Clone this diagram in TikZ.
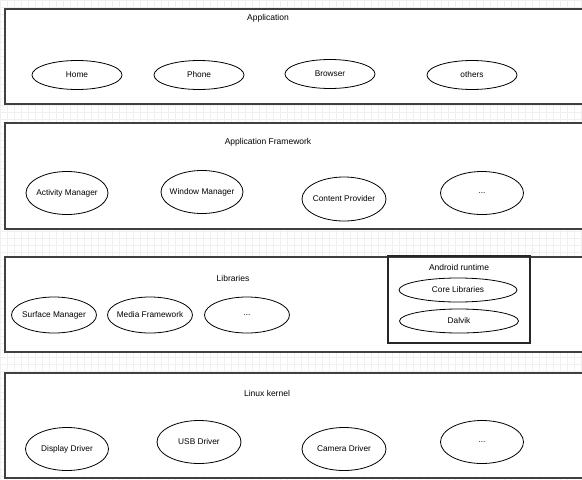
\documentclass[tikz,border=0pt]{standalone}
\usepackage{fontspec}
\setmainfont{Liberation Sans}
\usepackage{tikz}
\usetikzlibrary{shapes.geometric}

\tikzset{
    layerbox/.style={draw=black!75, line width=1.4pt, rectangle, inner sep=0pt},
    runtimebox/.style={draw=black!85, line width=1.4pt, rectangle, inner sep=0pt},
    part/.style={draw=black, line width=0.8pt, ellipse, inner xsep=-14pt, inner ysep=0pt,
        font=\fontsize{8.3}{10}\selectfont},
    title/.style={font=\fontsize{8.5}{10}\selectfont, inner sep=0pt}
}

\begin{document}
\begin{tikzpicture}[x=1pt, y=-1pt]
    \useasboundingbox (0, 0) rectangle (582, 480);
    \clip (0, 0) rectangle (582, 480);
    \fill[white] (0, 0) rectangle (582, 480);
    \draw[black!6, line width=0.3pt, step=7pt] (0, 0) grid (582, 480);

    % layers
    \node[layerbox, fill=white, minimum width=585pt, minimum height=95pt] at (297.5, 56.5) (app) {};
    \node[layerbox, fill=white, minimum width=585pt, minimum height=106pt] at (297.5, 176) (fw) {};
    \node[layerbox, fill=white, minimum width=585pt, minimum height=95pt] at (297.5, 304.5) (lib) {};
    \node[layerbox, fill=white, minimum width=585pt, minimum height=105pt] at (297.5, 425.5) (kernel) {};
    \node[runtimebox, minimum width=142pt, minimum height=87pt] at (459, 299.5) (rt) {};

    \node[title] at (268, 18) (appt) {Application};
    \node[title] at (268, 142) (fwt) {Application Framework};
    \node[title] at (233, 278) (libt) {Libraries};
    \node[title] at (459, 267) (rtt) {Android runtime};
    \node[title] at (267, 393) (kernelt) {Linux kernel};

    % application
    \node[part, minimum width=90pt, minimum height=29pt] at (77, 75) (home) {Home};
    \node[part, minimum width=90pt, minimum height=29pt] at (199, 75) (phone) {Phone};
    \node[part, minimum width=90pt, minimum height=29pt] at (330, 74) (browser) {Browser};
    \node[part, minimum width=90pt, minimum height=29pt] at (472, 75) (others) {others};

    % application framework
    \node[part, minimum width=82pt, minimum height=43pt] at (67, 193) (actmgr) {Activity Manager};
    \node[part, minimum width=82pt, minimum height=43pt] at (202, 192) (winmgr) {Window Manager};
    \node[part, minimum width=84pt, minimum height=44pt] at (344, 199) (content) {Content Provider};
    \node[part, minimum width=83pt, minimum height=43pt] at (482, 193) (fwmore) {...};

    % libraries
    \node[part, minimum width=85pt, minimum height=36pt] at (54, 315) (surface) {Surface Manager};
    \node[part, minimum width=85pt, minimum height=36pt] at (150, 315) (media) {Media Framework};
    \node[part, minimum width=85pt, minimum height=36pt] at (247, 315) (libmore) {...};

    % android runtime
    \node[part, minimum width=118pt, minimum height=24pt] at (458, 290) (core) {Core Libraries};
    \node[part, minimum width=119pt, minimum height=24pt] at (459, 321) (dalvik) {Dalvik};

    % linux kernel
    \node[part, minimum width=83pt, minimum height=43pt] at (67, 449) (display) {Display Driver};
    \node[part, minimum width=84pt, minimum height=43pt] at (199, 442) (usb) {USB Driver};
    \node[part, minimum width=84pt, minimum height=43pt] at (344, 449) (camera) {Camera Driver};
    \node[part, minimum width=83pt, minimum height=43pt] at (482, 442) (kernelmore) {...};
\end{tikzpicture}
\end{document}
